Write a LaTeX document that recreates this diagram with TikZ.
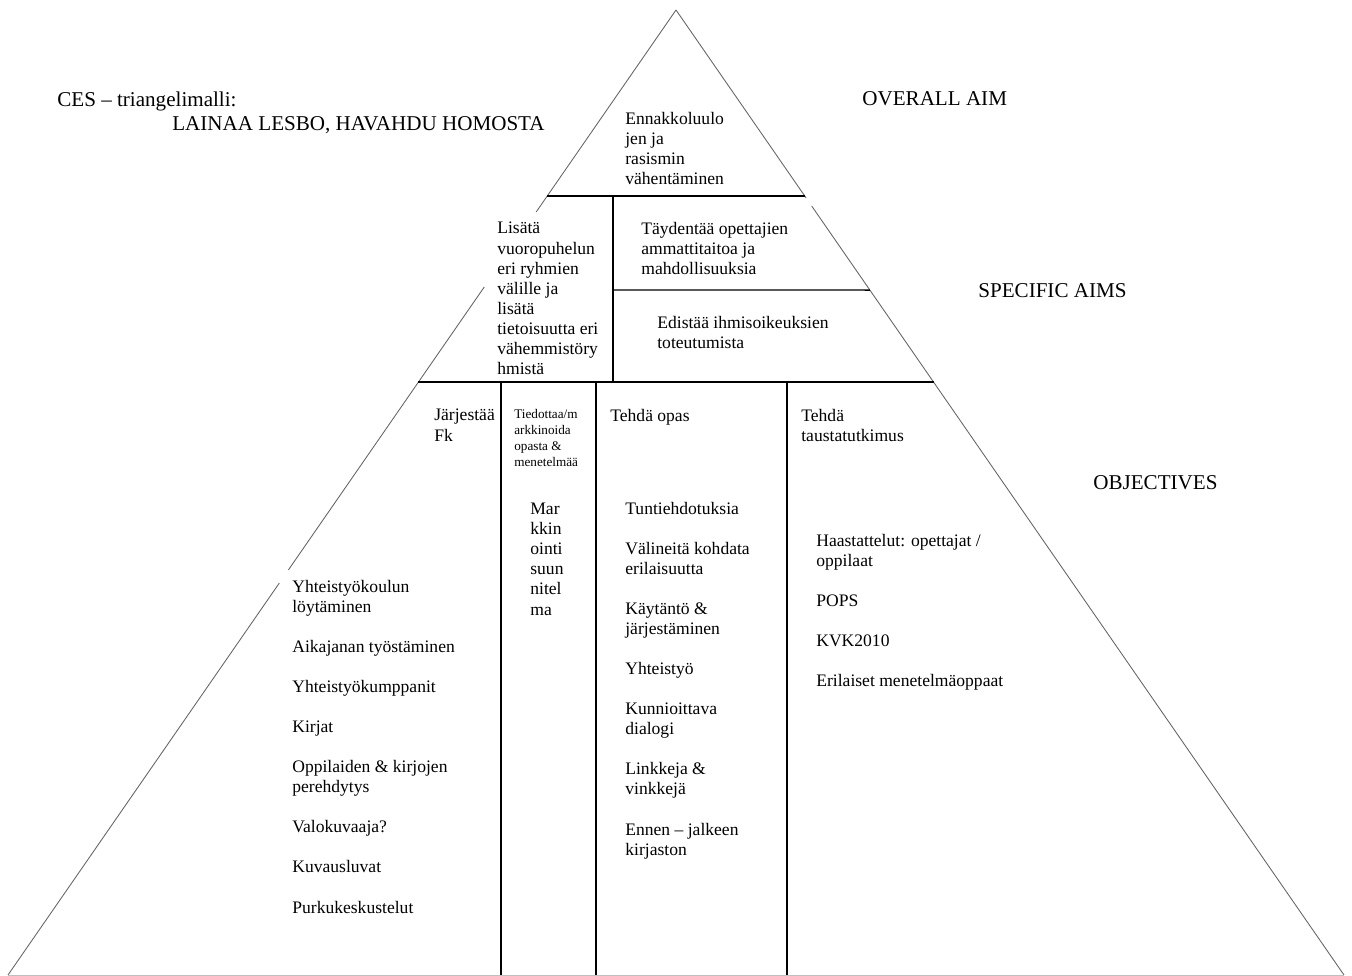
\documentclass[tikz,border=0pt]{standalone}
\usepackage{fontspec}
\setmainfont{Liberation Serif}
\usetikzlibrary{calc}
\begin{document}
\begin{tikzpicture}[x=0.02cm, y=-0.02cm,
  side/.style={black!60, line width=0.5pt},
  rule/.style={black, line width=0.8pt},
  txt/.style={anchor=north west, inner sep=0pt, align=left, font=\fontsize{10}{11.4}\selectfont},
  head/.style={anchor=base west, inner sep=0pt, font=\fontsize{12}{14}\selectfont}]
\useasboundingbox (0,0) rectangle (1352,976);
% pyramid outline
\coordinate (top) at (676,10);
\coordinate (bl) at (8,975);
\coordinate (br) at (1344,975);
\draw[side] (top) -- ($(top)!0.2093!(bl)$);
\draw[side] ($(top)!0.2870!(bl)$) -- ($(top)!0.5803!(bl)$);
\draw[side] ($(top)!0.5938!(bl)$) -- (bl);
\draw[side] (top) -- ($(top)!0.1948!(br)$);
\draw[side] ($(top)!0.2031!(br)$) -- (br);
\draw[black!25, line width=0.5pt] (bl) -- (br);
% tiers
\draw[rule] ($(top)!0.1927!(bl)$) -- ($(top)!0.1927!(br)$);
\draw[rule] ($(top)!0.3855!(bl)$) -- ($(top)!0.3855!(br)$);
\draw[rule] (613,196) -- (613,382);
\draw[rule] (613,290) -- ($(top)!0.2902!(br)$);
\foreach \x in {501,596,787}
  \draw[rule] (\x,382) -- (\x,975);
% headings
\node[head] (ces) at (57,107) {CES -- triangelimalli:};
\node[head] (motto) at (172,131) {LAINAA LESBO, HAVAHDU HOMOSTA};
\node[head] (overall) at (862,106) {OVERALL AIM};
\node[head] (specific) at (978,298) {SPECIFIC AIMS};
\node[head] (objectives) at (1093,489) {OBJECTIVES};
% overall aim
\node[txt] (aim) at (625,112) {Ennakkoluulo\\jen ja\\rasismin\\vähentäminen};
% specific aims
\node[txt] (dialog) at (497,222) {Lisätä\\vuoropuhelun\\eri ryhmien\\välille ja\\lisätä\\tietoisuutta eri\\vähemmistöry\\hmistä};
\node[txt] (teach) at (641,222) {Täydentää opettajien\\ammattitaitoa ja\\mahdollisuuksia};
\node[txt] (rights) at (657,316) {Edistää ihmisoikeuksien\\toteutumista};
% objectives
\node[txt] (fk) at (434,409) {Järjestää\\Fk};
\node[txt, font=\fontsize{7.5}{9.2}\selectfont] (inform) at (514,409) {Tiedottaa/m\\arkkinoida\\opasta \&\\menetelmää};
\node[txt] (guide) at (610,409) {Tehdä opas};
\node[txt] (study) at (801,409) {Tehdä\\taustatutkimus};
\node[txt] (plan) at (530,503) {Mar\\kkin\\ointi\\suun\\nitel\\ma};
\node[txt] (fkitems) at (292,580) {Yhteistyökoulun\\löytäminen\\[11.4pt]Aikajanan työstäminen\\[11.4pt]Yhteistyökumppanit\\[11.4pt]Kirjat\\[11.4pt]Oppilaiden \& kirjojen\\perehdytys\\[11.4pt]Valokuvaaja?\\[11.4pt]Kuvausluvat\\[11.4pt]Purkukeskustelut};
\node[txt] (guideitems) at (625,502) {Tuntiehdotuksia\\[11.4pt]Välineitä kohdata\\erilaisuutta\\[11.4pt]Käytäntö \&\\järjestäminen\\[11.4pt]Yhteistyö\\[11.4pt]Kunnioittava\\dialogi\\[11.4pt]Linkkeja \&\\vinkkejä\\[11.4pt]Ennen -- jalkeen\\kirjaston};
\node[txt] (studyitems) at (816,534) {Haastattelut: opettajat /\\oppilaat\\[11.4pt]POPS\\[11.4pt]KVK2010\\[11.4pt]Erilaiset menetelmäoppaat};
\end{tikzpicture}
\end{document}
